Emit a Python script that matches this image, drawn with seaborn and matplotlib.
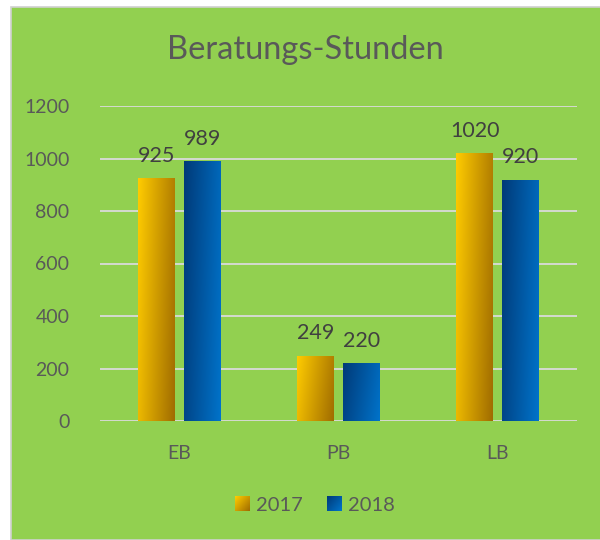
import numpy as np
import pandas as pd
import matplotlib
matplotlib.use("Agg")
import matplotlib.pyplot as plt
from matplotlib.patches import Rectangle, Patch
from matplotlib.colors import to_rgb
from matplotlib.legend_handler import HandlerBase
from matplotlib.image import BboxImage
from matplotlib.transforms import Bbox, TransformedBbox
import seaborn as sns

categories = ["EB", "PB", "LB"]
years = ["2017", "2018"]
values_2017 = [925, 249, 1020]
values_2018 = [989, 220, 920]
yticks = [0, 200, 400, 600, 800, 1000, 1200]
title = "Beratungs-Stunden"

grad = {
    "2017": ("#FFCC00", "#A06C00"),
    "2018": ("#003A78", "#0073CA"),
}
mid = {"2017": "#E0A800", "2018": "#005AA8"}

df = pd.DataFrame({
    "cat": categories * 2,
    "year": [years[0]] * 3 + [years[1]] * 3,
    "val": values_2017 + values_2018,
})


def grad_img(yr, nx=60, ny=200, wy=0.2):
    c1 = np.array(to_rgb(grad[yr][0]))
    c2 = np.array(to_rgb(grad[yr][1]))
    gx = np.linspace(0, 1, nx)[None, :]
    gy = np.linspace(0, 1, ny)[:, None]
    t = np.clip((1 - wy) * gx + wy * gy, 0, 1)
    return c1[None, None, :] * (1 - t[..., None]) + c2[None, None, :] * t[..., None]


class GradHandler(HandlerBase):
    def __init__(self, yr):
        super().__init__()
        self.yr = yr

    def create_artists(self, legend, orig_handle, xdescent, ydescent, width, height,
                       fontsize, trans):
        s = min(width, height)
        bb = Bbox.from_bounds(-xdescent, -ydescent + (height - s) / 2, s, s)
        img = BboxImage(TransformedBbox(bb, trans), interpolation="bilinear")
        img.set_data(grad_img(self.yr, 20, 20, 0.45))
        return [img]


sns.set_theme(style="white")
plt.rcParams["font.family"] = ["Lato", "DejaVu Sans"]
green = "#92D050"
txt = "#595959"

fig = plt.figure(figsize=(6, 5.4), dpi=100)
fig.patch.set_facecolor("white")
fig.patches.append(Rectangle((11 / 600, 0), 1, 1 - 7 / 540, transform=fig.transFigure,
                             facecolor=green, edgecolor="#D0D0D0", linewidth=1.2, zorder=-10))

ax = fig.add_axes([100 / 600, 1 - 421 / 540, 477 / 600, 315 / 540])
ax.set_facecolor("none")
sns.barplot(data=df, x="cat", y="val", hue="year", order=categories, hue_order=years,
            palette=[mid[y] for y in years], width=0.57, gap=0.19, ax=ax, legend=False,
            errorbar=None)

ax.set_ylim(0, 1200)
xlim = ax.get_xlim()

for cont, yr in zip(ax.containers, years):
    img = grad_img(yr)
    for patch, v in zip(cont.patches, cont.datavalues):
        x0, y0 = patch.get_x(), patch.get_y()
        w, h = patch.get_width(), patch.get_height()
        im = ax.imshow(img, extent=[x0, x0 + w, y0, y0 + h], origin="upper",
                       aspect="auto", zorder=2, interpolation="bilinear")
        im.set_clip_path(patch)
        patch.set_facecolor("none")
        patch.set_edgecolor("none")
        ax.annotate(f"{int(v)}", (x0 + w / 2, y0 + h), xytext=(0, 9),
                    textcoords="offset points", ha="center", va="bottom",
                    fontsize=15.5, color="#404040")

ax.set_xlim(xlim)
ax.set_ylim(0, 1200)
ax.set_yticks(yticks)
ax.set_yticklabels([str(t) for t in yticks])
ax.yaxis.grid(True, color="#DADADA", linewidth=1.3)
ax.set_axisbelow(True)
for s in ax.spines.values():
    s.set_visible(False)
ax.tick_params(axis="y", length=0, pad=22, labelsize=14, labelcolor=txt)
ax.tick_params(axis="x", length=0, pad=17, labelsize=14, labelcolor=txt)
ax.set_xlabel("")
ax.set_ylabel("")

fig.text(0.5 * (11 / 600 + 1), 1 - 50 / 540, title, ha="center", va="center",
         fontsize=23.5, color=txt)

handles = [Patch(facecolor=mid[y], edgecolor="none") for y in years]
fig.legend(handles, years, loc="center", bbox_to_anchor=(0.525, 1 - 505 / 540),
           ncol=2, frameon=False, fontsize=14.5, labelcolor=txt,
           handlelength=0.75, handleheight=0.75, handletextpad=0.3, columnspacing=1.2,
           handler_map={handles[0]: GradHandler("2017"), handles[1]: GradHandler("2018")})

fig.savefig("out.png", dpi=100)
